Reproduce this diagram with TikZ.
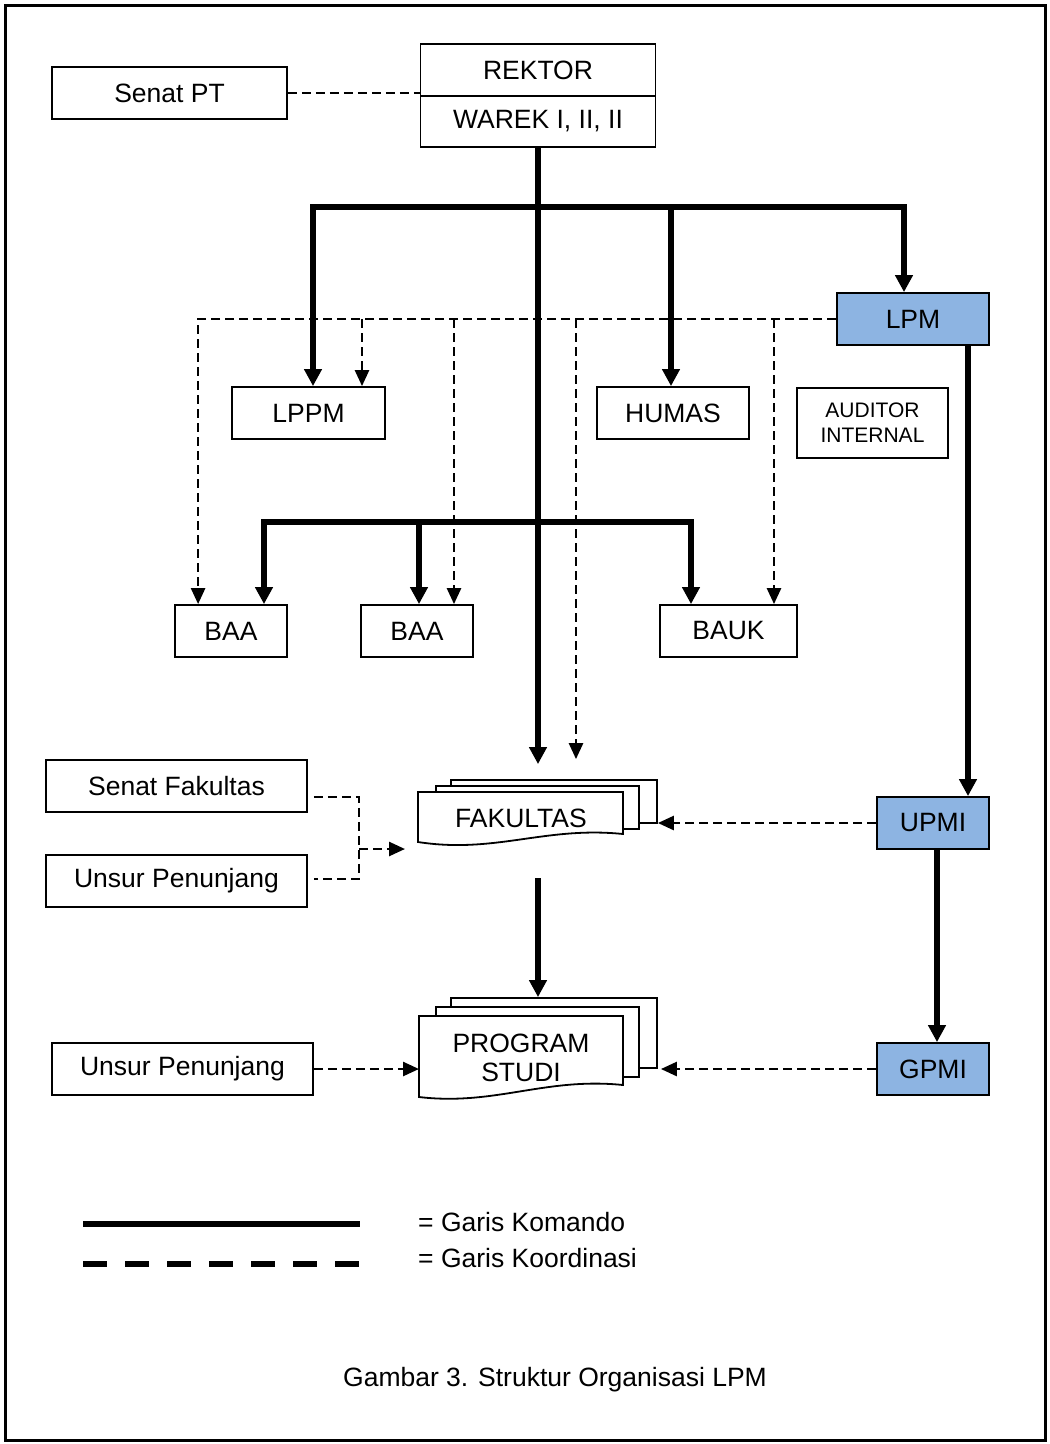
\documentclass[tikz,border=0pt]{standalone}
\usepackage{fontspec}
\setmainfont{Liberation Sans}
\usetikzlibrary{arrows.meta,calc}
\definecolor{lpmblue}{RGB}{141,180,226}
\begin{document}
\begin{tikzpicture}[x=1pt,y=-1pt,
  txt/.style={font=\fontsize{26.5}{30}\selectfont},
  box/.style={draw, line width=1.8pt, minimum width=#1, minimum height=52pt, inner sep=0pt, txt},
  docb/.style={draw, fill=white, line width=1.8pt, inner sep=0pt},
  cmd/.style={line width=5.5pt},
  cmdarrow/.style={cmd, -{Triangle[length=17pt,width=17pt]}},
  cmdboth/.style={cmd, {Triangle[length=17pt,width=17pt]}-{Triangle[length=17pt,width=17pt]}},
  coord/.style={line width=2.6pt, dash pattern=on 9pt off 5pt},
  coordarrow/.style={coord, -{Triangle[length=16pt,width=14pt]}}]
\useasboundingbox (0,0) rectangle (1050,1444);
\draw[line width=3pt] (5,5) rectangle (1045,1440);

% boxes
\node[box=235] (senatpt) at (169.5,93) {Senat PT};
\node[box=235] (rektor) at (538,70) {REKTOR};
\node[box=235,minimum height=51pt] (warek) at (538,121.5) {WAREK I, II, II};
\node[box=153] (lppm) at (308.5,413) {LPPM};
\node[box=152] (humas) at (673,413) {HUMAS};
\node[box=152,fill=lpmblue] (lpm) at (913,319) {LPM};
\node[box=151,minimum height=70pt,align=center,font=\fontsize{21}{25}\selectfont] (auditor) at (872.5,423) {AUDITOR\\INTERNAL};
\node[box=112] (baa1) at (231,631) {BAA};
\node[box=112] (baa2) at (417,631) {BAA};
\node[box=137] (bauk) at (728.5,631) {BAUK};
\node[box=261] (senatfak) at (176.5,786) {Senat Fakultas};
\node[box=261] (unsur1) at (176.5,881) {Unsur Penunjang};
\node[box=112,fill=lpmblue] (upmi) at (933,823) {UPMI};
\node[box=112,fill=lpmblue] (gpmi) at (933,1069) {GPMI};
\node[box=261] (unsur2) at (182.5,1069) {Unsur Penunjang};

% FAKULTAS multi-document
\node[docb, minimum width=206pt, minimum height=43pt] (fakback) at (554,801.5) {};
\node[docb, minimum width=203pt, minimum height=43pt] (fakmid) at (537.5,807.5) {};
\coordinate (fakfront) at (418,792);
\draw[line width=1.8pt, fill=white] (fakfront) -- (623,792) -- (623,834)
  .. controls (545,826) and (495,854) .. (418,842) -- cycle;
\node[txt] (fak) at (521,818) {FAKULTAS};

% PROGRAM STUDI multi-document
\node[docb, minimum width=206pt, minimum height=70pt] (psback) at (554,1033) {};
\node[docb, minimum width=203pt, minimum height=70pt] (psmid) at (537.5,1042) {};
\coordinate (psfront) at (419,1016);
\draw[line width=1.8pt, fill=white] (psfront) -- (623,1016) -- (623,1085)
  .. controls (545,1077) and (495,1106) .. (419,1097) -- cycle;
\node[txt, align=center, font=\fontsize{26.5}{29.5}\selectfont] (ps) at (521,1058) {PROGRAM\\STUDI};

% command lines
\draw[cmdarrow] (warek.south) -- ($(fakback.north -| warek.south)+(0,-15)$);
\coordinate (b1L) at (313,207);
\coordinate (b1R) at (904,207);
\coordinate (b1H) at (671,207);
\draw[cmdboth] (b1R |- lpm.north) -- (b1R) -- (b1L) -- (b1L |- lppm.north);
\draw[cmdarrow] (b1H) -- (b1H |- humas.north);
\coordinate (b2L) at (264,522);
\coordinate (b2R) at (691,522);
\coordinate (b2M) at (419,522);
\draw[cmdboth] (b2L |- baa1.north) -- (b2L) -- (b2R) -- (b2R |- bauk.north);
\draw[cmdarrow] (b2M) -- (b2M |- baa2.north);
\coordinate (lv) at (968,0);
\draw[cmdarrow] (lpm.south -| lv) -- (upmi.north -| lv);
\coordinate (uv) at (937,0);
\draw[cmdarrow] (upmi.south -| uv) -- (gpmi.north -| uv);
\coordinate (fv) at (538,878);
\draw[cmdarrow] (fv) -- (psback.north -| fv);

% coordination lines
\draw[coord] (senatpt.east) -- (senatpt.east -| rektor.west);
\draw[coordarrow] (lpm.west) -| ($(baa1.north west)+(24,0)$);
\coordinate (d2) at (362,0);
\draw[coordarrow] (d2 |- lpm.west) -- (d2 |- lppm.north);
\coordinate (d3) at (454,0);
\draw[coordarrow] (d3 |- lpm.west) -- (d3 |- baa2.north);
\coordinate (d4) at (576,0);
\draw[coordarrow] (d4 |- lpm.west) -- ($(d4 |- fakback.north)+(0,-20)$);
\coordinate (d5) at (774,0);
\draw[coordarrow] (d5 |- lpm.west) -- (d5 |- bauk.north);
\draw[coordarrow] (upmi.west) -- (upmi.west -| fakback.east);
\draw[coordarrow] (gpmi.west) -- ($(gpmi.west -| psback.east)+(3,0)$);
\draw[coordarrow] (unsur2.east) -- (unsur2.east -| psfront);
\coordinate (jx) at (359,849);
\draw[coord] ($(senatfak.east)+(6,11)$) -| (jx) |- ($(unsur1.east)+(6,-2)$);
\draw[coordarrow] (jx) -- ($(jx -| fakfront)+(-13,0)$);

% legend
\draw[line width=5.7pt] (83,1224) -- (360,1224);
\draw[line width=6pt, dash pattern=on 24pt off 18pt] (83,1264) -- (360,1264);
\node[txt, anchor=west, inner sep=0pt] (lk) at (418,1222) {= Garis Komando};
\node[txt, anchor=west, inner sep=0pt] (lo) at (418,1258) {= Garis Koordinasi};
\node[txt] (caption) at (555,1380) {Gambar 3. Struktur Organisasi LPM};
\end{tikzpicture}
\end{document}
